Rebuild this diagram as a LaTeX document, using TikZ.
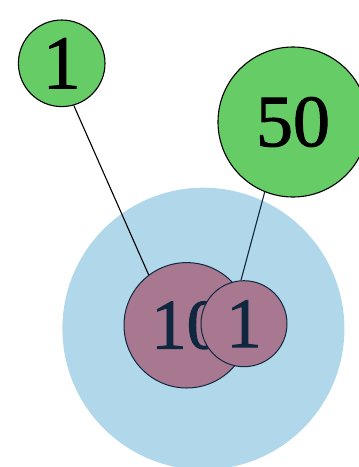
\documentclass[tikz,border=0pt]{standalone}
\usepackage{fontspec}
\setmainfont{Liberation Serif}
\newfontfamily\digitfont[FakeBold=1.3]{Liberation Serif}
\definecolor{bubble}{HTML}{B0D8EA}
\definecolor{leafgreen}{HTML}{66CC66}
\definecolor{mauve}{HTML}{A87890}
\definecolor{navy}{HTML}{10283F}
\begin{document}
\begin{tikzpicture}[x=1pt,y=-1pt,
  greennode/.style={circle,draw=black,line width=1.1pt,fill=leafgreen,inner sep=0pt,text=black},
  mauvenode/.style={circle,draw=navy,line width=1pt,fill=mauve,inner sep=0pt,text=navy},
  link/.style={line width=1.1pt}]
\useasboundingbox (0,0) rectangle (359,467);
\begin{scope}
\clip (0,0) rectangle (359,467);
\node[circle,fill=bubble,inner sep=0pt,minimum size=282pt] (blue) at (203.4,328.7) {};
\node[mauvenode,minimum size=125.4pt,font=\digitfont\fontsize{71}{71}\selectfont] (m10) at (186.7,325.3) {10};
\node[mauvenode,minimum size=86pt,font=\digitfont\fontsize{71}{71}\selectfont] (m1) at (244,323.7) {1};
\node[greennode,minimum size=86.6pt,font=\digitfont\fontsize{76}{76}\selectfont] (g1) at (61.7,63.3) {1};
\node[greennode,minimum size=150pt,font=\digitfont\fontsize{74}{74}\selectfont] (g50) at (293,122) {50};
\draw[link,draw=black] (g1.-74) -- (m10.127);
\draw[link,draw=navy] (g50.-112) -- (m1.94);
\end{scope}
\end{tikzpicture}
\end{document}
